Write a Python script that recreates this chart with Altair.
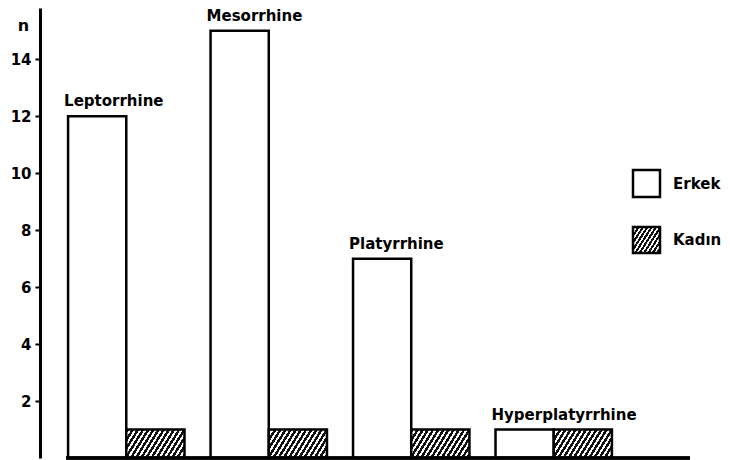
import altair as alt
import pandas as pd

categories = ["Leptorrhine", "Mesorrhine", "Platyrrhine", "Hyperplatyrrhine"]
sexes = ["Erkek", "Kadın"]
erkek = [12, 15, 7, 1]
kadin = [1, 1, 1, 1]
y_ticks = [2, 4, 6, 8, 10, 12, 14]

rows = []
for c, e, k in zip(categories, erkek, kadin):
    rows.append({"cat": c, "sex": sexes[0], "n": e})
    rows.append({"cat": c, "sex": sexes[1], "n": k})
df = pd.DataFrame(rows)


def hatch(x2, y2, n, frac=0.55):
    stops = []
    for k in range(n):
        a = round(k / n, 4)
        b = round((k + frac) / n, 4)
        c = round((k + 1) / n, 4)
        stops += [
            {"offset": a, "color": "#111111"},
            {"offset": b, "color": "#111111"},
            {"offset": b, "color": "#ffffff"},
            {"offset": c, "color": "#ffffff"},
        ]
    return {"gradient": "linear", "x1": 0, "y1": 0, "x2": x2, "y2": y2, "stops": stops}


FONT = "DejaVu Sans"

base = alt.Chart(df)

x_enc = alt.X(
    "cat:N",
    sort=categories,
    scale=alt.Scale(paddingInner=0.183, paddingOuter=0.197),
    axis=None,
)
y_scale = alt.Scale(domain=[0, 15.8], nice=False)
y_axis = alt.Axis(
    values=y_ticks,
    grid=False,
    domainColor="black",
    domainWidth=3,
    tickColor="black",
    tickWidth=2,
    tickSize=5,
    labelFont=FONT,
    labelFontSize=15,
    labelFontWeight="bold",
    labelColor="black",
    labelPadding=4,
    title="n",
    titleAngle=0,
    titleX=-17,
    titleY=17,
    titleAlign="center",
    titleBaseline="middle",
    titleFont=FONT,
    titleFontSize=16,
    titleFontWeight="bold",
    titleColor="black",
)

bars = base.mark_bar(stroke="black", strokeWidth=2.5).encode(
    x=x_enc,
    xOffset=alt.XOffset(
        "sex:N", sort=sexes, scale=alt.Scale(domain=sexes, paddingInner=0, paddingOuter=0)
    ),
    y=alt.Y("n:Q", scale=y_scale, axis=y_axis),
    fill=alt.condition(
        alt.datum.sex == "Kadın",
        alt.value(hatch(1.3, 0.39, 16)),
        alt.value("white"),
    ),
)

labels = (
    base.transform_filter(alt.datum.sex == "Erkek")
    .mark_text(
        align="left",
        baseline="alphabetic",
        dx=-4,
        dy=-10,
        font=FONT,
        fontSize=15,
        fontWeight="bold",
        color="black",
    )
    .encode(
        x=alt.X("cat:N", sort=categories, bandPosition=0),
        y=alt.Y("n:Q"),
        text="cat:N",
    )
)

baseline = base.mark_rule(color="black", strokeWidth=2.5).encode(
    x=alt.value(26), x2=alt.value(650), y=alt.datum(0)
)

leg_e_box = alt.Chart(pd.DataFrame({"label": [sexes[0]]})).mark_rect(
    stroke="black", strokeWidth=2.5, fill="white"
).encode(x=alt.value(593), x2=alt.value(620), y=alt.value(162), y2=alt.value(189))
leg_k_box = alt.Chart(pd.DataFrame({"label": [sexes[1]]})).mark_rect(
    stroke="black", strokeWidth=2.5, fill=hatch(1.3, 0.79, 11)
).encode(x=alt.value(593), x2=alt.value(620), y=alt.value(219), y2=alt.value(245))
leg_e_text = alt.Chart(pd.DataFrame({"label": [sexes[0]]})).mark_text(
    align="left", baseline="middle", font=FONT, fontSize=15, fontWeight="bold", color="black"
).encode(x=alt.value(633), y=alt.value(176), text="label:N")
leg_k_text = alt.Chart(pd.DataFrame({"label": [sexes[1]]})).mark_text(
    align="left", baseline="middle", font=FONT, fontSize=15, fontWeight="bold", color="black"
).encode(x=alt.value(633), y=alt.value(232), text="label:N")

chart = (
    alt.layer(bars, labels, baseline, leg_e_box, leg_k_box, leg_e_text, leg_k_text)
    .properties(
        width=600,
        height=450,
        autosize=alt.AutoSizeParams(type="none"),
        padding={"left": 32, "top": 0, "right": 82, "bottom": 2},
        background="white",
    )
    .configure_view(strokeWidth=0)
)

chart.save("out.html", embed_options={"renderer": "svg", "actions": False})
